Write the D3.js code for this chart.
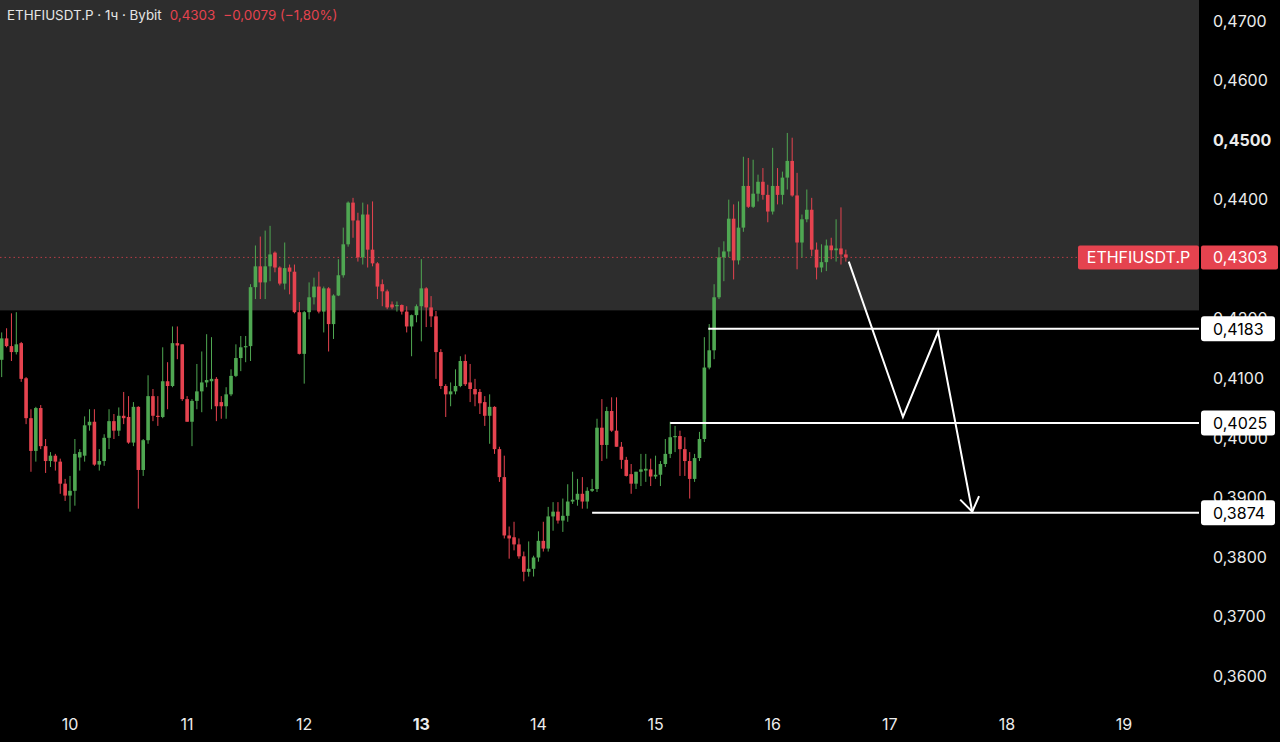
<!DOCTYPE html>
<html>
<head>
<meta charset="utf-8">
<script src="https://cdn.jsdelivr.net/npm/d3@7"></script>
<style>
  html, body { margin: 0; padding: 0; background: #000; }
  svg { display: block; font-family: "Inter", "Roboto", "Noto Sans", sans-serif; }
</style>
</head>
<body>
<div id="chart"></div>
<script>
// ── 데이터: 1시간봉 ETHFIUSDT.P (Bybit), 9일 10:00 부터 ──
const firstCandle = Date.UTC(2025, 0, 9, 10);
const opens = [
  .4131, .4167, .4154, .4144, .4159, .4100, .4033, .3978, .4050, .3986,
  .3961, .3970, .3960, .3923, .3903, .3911, .3967, .3970, .4021, .4027,
  .3955, .3961, .4000, .4028, .4012, .4037, .4035, .3992, .4052, .3946,
  .3996, .4070, .4037, .4035, .4095, .4087, .4159, .4157, .4065, .4027,
  .4062, .4078, .4093, .4095, .4099, .4060, .4053, .4073, .4104, .4134,
  .4152, .4154, .4253, .4288, .4261, .4288, .4311, .4286, .4259, .4286,
  .4279, .4211, .4141, .4211, .4236, .4254, .4212, .4251, .4191, .4239,
  .4273, .4325, .4395, .4365, .4303, .4375, .4316, .4293, .4258, .4246,
  .4224, .4221, .4223, .4212, .4187, .4206, .4221, .4251, .4219, .4204,
  .4144, .4087, .4073, .4078, .4087, .4129, .4093, .4082, .4077, .4060,
  .4037, .4052, .3981, .3934, .3836, .3833, .3821, .3801, .3775, .3780,
  .3799, .3827, .3814, .3868, .3876, .3861, .3869, .3893, .3896, .3906,
  .3893, .3911, .3914, .4017, .3988, .4045, .4012, .3985, .3963, .3939,
  .3923, .3943, .3945, .3947, .3935, .3938, .3956, .3973, .4001, .4003,
  .3981, .3961, .3931, .3966, .3998, .4118, .4147, .4236, .4303, .4313,
  .4368, .4298, .4353, .4423, .4388, .4410, .4430, .4408, .4380, .4423,
  .4408, .4437, .4465, .4407, .4328, .4367, .4383, .4316, .4286, .4295,
  .4323, .4315, .4318, .4308
];
const highs = [
  .4177, .4184, .4209, .4211, .4161, .4102, .4048, .4052, .4055, .3998,
  .3976, .3973, .3965, .3931, .3936, .3998, .3981, .4036, .4048, .4048,
  .3981, .4006, .4048, .4040, .4051, .4077, .4070, .4060, .4053, .3998,
  .4105, .4082, .4070, .4152, .4127, .4187, .4187, .4157, .4070, .4065,
  .4124, .4145, .4174, .4169, .4102, .4070, .4085, .4115, .4157, .4171,
  .4171, .4258, .4323, .4338, .4348, .4356, .4313, .4288, .4328, .4291,
  .4291, .4228, .4213, .4261, .4269, .4279, .4254, .4253, .4241, .4300,
  .4353, .4397, .4403, .4378, .4395, .4392, .4397, .4295, .4266, .4249,
  .4229, .4229, .4224, .4221, .4207, .4224, .4300, .4253, .4238, .4213,
  .4149, .4090, .4093, .4115, .4137, .4140, .4124, .4099, .4082, .4070,
  .4073, .4053, .3985, .3970, .3851, .3859, .3831, .3809, .3826, .3802,
  .3843, .3859, .3884, .3892, .3892, .3898, .3922, .3943, .3931, .3934,
  .3917, .3931, .4032, .4065, .4052, .4068, .4068, .3993, .3968, .3956,
  .3943, .3973, .3973, .3965, .3970, .3961, .3998, .4027, .4020, .4012,
  .4001, .3976, .3973, .4010, .4169, .4191, .4258, .4320, .4330, .4400,
  .4392, .4397, .4472, .4470, .4467, .4442, .4453, .4425, .4487, .4453,
  .4447, .4512, .4504, .4445, .4375, .4417, .4403, .4328, .4325, .4333,
  .4336, .4367, .4387, .4316
];
const lows = [
  .4102, .4152, .4129, .4140, .4094, .4023, .3943, .3960, .3981, .3941,
  .3951, .3945, .3906, .3894, .3876, .3886, .3945, .3960, .4012, .3953,
  .3945, .3953, .3981, .3998, .4003, .4023, .3990, .3986, .3881, .3936,
  .3990, .4028, .4020, .4033, .4048, .4085, .4132, .4062, .4027, .3986,
  .4048, .4043, .4085, .4048, .4028, .4032, .4032, .4070, .4102, .4112,
  .4127, .4129, .4233, .4233, .4233, .4263, .4278, .4256, .4249, .4241,
  .4209, .4140, .4091, .4199, .4224, .4209, .4177, .4145, .4166, .4238,
  .4269, .4321, .4336, .4296, .4291, .4286, .4288, .4233, .4221, .4216,
  .4216, .4212, .4207, .4177, .4137, .4194, .4162, .4186, .4186, .4099,
  .4082, .4035, .4053, .4073, .4085, .4087, .4060, .4053, .4040, .4020,
  .3990, .3973, .3926, .3831, .3797, .3811, .3797, .3759, .3767, .3767,
  .3792, .3809, .3809, .3844, .3856, .3842, .3859, .3889, .3886, .3881,
  .3881, .3909, .3909, .3961, .3965, .4010, .3985, .3948, .3935, .3906,
  .3914, .3919, .3926, .3919, .3931, .3919, .3951, .3966, .3976, .3936,
  .3936, .3898, .3926, .3961, .3993, .4115, .4132, .4233, .4263, .4303,
  .4266, .4291, .4346, .4386, .4386, .4397, .4400, .4362, .4375, .4392,
  .4392, .4417, .4405, .4283, .4303, .4362, .4305, .4266, .4278, .4280,
  .4300, .4296, .4291, .4296
];
const closes = [
  .4167, .4154, .4144, .4157, .4099, .4033, .3978, .4050, .3986, .3961,
  .3970, .3960, .3923, .3903, .3911, .3973, .3976, .4021, .4027, .3955,
  .3961, .4000, .4028, .4012, .4037, .4033, .3992, .4052, .3946, .3996,
  .4070, .4037, .4035, .4095, .4087, .4159, .4155, .4065, .4027, .4062,
  .4078, .4093, .4097, .4099, .4053, .4053, .4073, .4104, .4134, .4152,
  .4154, .4253, .4288, .4261, .4288, .4308, .4286, .4259, .4285, .4279,
  .4211, .4141, .4211, .4236, .4254, .4212, .4251, .4191, .4239, .4273,
  .4325, .4395, .4365, .4303, .4375, .4316, .4293, .4254, .4246, .4219,
  .4219, .4223, .4212, .4187, .4206, .4221, .4251, .4219, .4204, .4144,
  .4087, .4073, .4078, .4087, .4129, .4090, .4082, .4073, .4058, .4037,
  .4052, .3981, .3934, .3836, .3831, .3821, .3801, .3775, .3780, .3799,
  .3827, .3814, .3868, .3876, .3861, .3869, .3893, .3896, .3906, .3893,
  .3911, .3914, .4017, .3988, .4045, .4012, .3985, .3963, .3936, .3923,
  .3943, .3947, .3948, .3935, .3938, .3956, .3973, .4001, .4003, .3981,
  .3961, .3931, .3966, .3998, .4118, .4147, .4236, .4303, .4313, .4368,
  .4298, .4353, .4423, .4388, .4410, .4430, .4408, .4380, .4423, .4408,
  .4437, .4465, .4407, .4328, .4367, .4383, .4316, .4286, .4295, .4323,
  .4315, .4318, .4308, .4303
];

// 축 눈금
const dayTicks = [10, 11, 12, 13, 14, 15, 16, 17, 18, 19];
const boldDay = 13;
const priceTicks = [0.47, 0.46, 0.45, 0.44, 0.43, 0.42, 0.41, 0.40, 0.39, 0.38, 0.37, 0.36];
const boldPrice = 0.45;

// 수평 레벨: [가격, 시작 (일, 시)]
const levelPrices = [0.4183, 0.4025, 0.3874];
const levelStarts = [[15, 10.8], [15, 3], [14, 11]];

// 예상 경로 (일, 시, 가격)
const pathDays = [16, 17, 17, 17];
const pathHours = [15.6, 2.7, 9.9, 16.9];
const pathPrices = [0.4296, 0.4035, 0.4178, 0.3876];

// 상단 회색 영역 하단 가격
const zoneBottom = 0.4214;

const symbol = "ETHFIUSDT.P";
const headerTitle = "ETHFIUSDT.P · 1ч · Bybit";
const headerLast = "0,4303";
const headerChange = "−0,0079 (−1,80%)";

// ── 레이아웃 ──
const width = 1280;
const height = 742;
const plotRight = 1199;
const GREEN = "#4fa752";
const RED = "#e5434f";

const fmt = (v) => d3.format(".4f")(v).replace(".", ",");
const dayDate = (d, h = 0) => new Date(Date.UTC(2025, 0, d) + h * 3600e3);

const x = d3.scaleUtc()
  .domain([dayDate(10), dayDate(19)])
  .range([70, 1124]);
const y = d3.scaleLinear()
  .domain([0.36, 0.47])
  .range([676, 21]);

const svg = d3.select("#chart")
  .append("svg")
  .attr("width", width)
  .attr("height", height);

svg.append("rect").attr("width", width).attr("height", height).attr("fill", "#000");

// 회색 영역
svg.append("rect")
  .attr("x", 0).attr("y", 0)
  .attr("width", plotRight).attr("height", y(zoneBottom))
  .attr("fill", "#2d2d2d");

// 현재가 점선
svg.append("line")
  .attr("x1", 0).attr("x2", 1078)
  .attr("y1", y(closes[closes.length - 1])).attr("y2", y(closes[closes.length - 1]))
  .attr("stroke", RED).attr("stroke-opacity", 0.75)
  .attr("stroke-width", 1).attr("stroke-dasharray", "1.5,3");

// 캔들
const candles = closes.map((c, i) => ({
  t: new Date(firstCandle + i * 3600e3),
  o: opens[i], h: highs[i], l: lows[i], c,
}));
const bodyW = 3.6;

const cg = svg.append("g");
cg.selectAll(".wick")
  .data(candles)
  .join("line")
  .attr("class", "wick")
  .attr("x1", (d) => x(d.t)).attr("x2", (d) => x(d.t))
  .attr("y1", (d) => y(d.h)).attr("y2", (d) => y(d.l))
  .attr("stroke", (d) => (d.c >= d.o ? GREEN : RED))
  .attr("stroke-width", 1);
cg.selectAll(".body")
  .data(candles)
  .join("rect")
  .attr("class", "body")
  .attr("x", (d) => x(d.t) - bodyW / 2)
  .attr("width", bodyW)
  .attr("y", (d) => y(Math.max(d.o, d.c)))
  .attr("height", (d) => Math.max(1.2, Math.abs(y(d.o) - y(d.c))))
  .attr("fill", (d) => (d.c >= d.o ? GREEN : RED));

// 수평 레벨 라인
svg.selectAll(".level")
  .data(levelPrices)
  .join("line")
  .attr("class", "level")
  .attr("x1", (d, i) => x(dayDate(levelStarts[i][0], levelStarts[i][1])))
  .attr("x2", plotRight)
  .attr("y1", (d) => y(d)).attr("y2", (d) => y(d))
  .attr("stroke", "#fff").attr("stroke-width", 2);

// 경로 화살표
const pts = pathPrices.map((p, i) => [x(dayDate(pathDays[i], pathHours[i])), y(p)]);
svg.append("path")
  .attr("d", d3.line()(pts))
  .attr("fill", "none").attr("stroke", "#fff").attr("stroke-width", 2)
  .attr("stroke-linejoin", "miter");
const tip = pts[pts.length - 1];
const prev = pts[pts.length - 2];
const ang = Math.atan2(tip[1] - prev[1], tip[0] - prev[0]);
const headLen = 17;
const headPts = [-0.6, 0.6].map((a) => [
  tip[0] - headLen * Math.cos(ang + a),
  tip[1] - headLen * Math.sin(ang + a),
]);
svg.append("path")
  .attr("d", d3.line()([headPts[0], tip, headPts[1]]))
  .attr("fill", "none").attr("stroke", "#fff").attr("stroke-width", 2);

// 가격축
svg.append("rect")
  .attr("x", plotRight).attr("y", 0)
  .attr("width", width - plotRight).attr("height", height)
  .attr("fill", "#000");
svg.append("g")
  .selectAll("text")
  .data(priceTicks)
  .join("text")
  .attr("x", 1213)
  .attr("y", (d) => y(d))
  .attr("dy", "0.36em")
  .attr("fill", "#ececec")
  .attr("font-size", 16)
  .attr("font-weight", (d) => (d === boldPrice ? 700 : 400))
  .text(fmt);

// 날짜축
svg.append("g")
  .selectAll("text")
  .data(dayTicks)
  .join("text")
  .attr("x", (d) => x(dayDate(d)))
  .attr("y", 724)
  .attr("dy", "0.36em")
  .attr("text-anchor", "middle")
  .attr("fill", "#ececec")
  .attr("font-size", 16)
  .attr("font-weight", (d) => (d === boldDay ? 700 : 400))
  .text((d) => d);

// 레벨 라벨 (축 눈금 위에 겹쳐 그림)
const lab = svg.selectAll(".lvl-label")
  .data(levelPrices)
  .join("g")
  .attr("class", "lvl-label")
  .attr("transform", (d) => `translate(1201, ${y(d)})`);
lab.append("rect")
  .attr("x", 0).attr("y", -12.5)
  .attr("width", 74).attr("height", 25)
  .attr("rx", 3)
  .attr("fill", "#fff");
lab.append("text")
  .attr("x", 12).attr("dy", "0.36em")
  .attr("fill", "#000")
  .attr("font-size", 16)
  .text(fmt);

// 현재가 라벨
const lastY = y(closes[closes.length - 1]);
svg.append("rect")
  .attr("x", 1078).attr("y", lastY - 12)
  .attr("width", 121).attr("height", 24)
  .attr("rx", 2).attr("fill", RED);
svg.append("text")
  .attr("x", 1138.5).attr("y", lastY).attr("dy", "0.36em")
  .attr("text-anchor", "middle")
  .attr("fill", "#fff").attr("font-size", 16)
  .text(symbol);
svg.append("rect")
  .attr("x", 1201).attr("y", lastY - 12)
  .attr("width", 77).attr("height", 24)
  .attr("rx", 2).attr("fill", RED);
svg.append("text")
  .attr("x", 1213).attr("y", lastY).attr("dy", "0.36em")
  .attr("fill", "#fff").attr("font-size", 16)
  .text(fmt(closes[closes.length - 1]));

// 헤더
const head = svg.append("text")
  .attr("x", 7).attr("y", 20)
  .attr("font-size", 13.4);
head.append("tspan").attr("fill", "#e6e6e6").text(headerTitle);
head.append("tspan").attr("dx", 8).attr("fill", RED).text(headerLast);
head.append("tspan").attr("dx", 8).attr("fill", RED).text(headerChange);
</script>
</body>
</html>
